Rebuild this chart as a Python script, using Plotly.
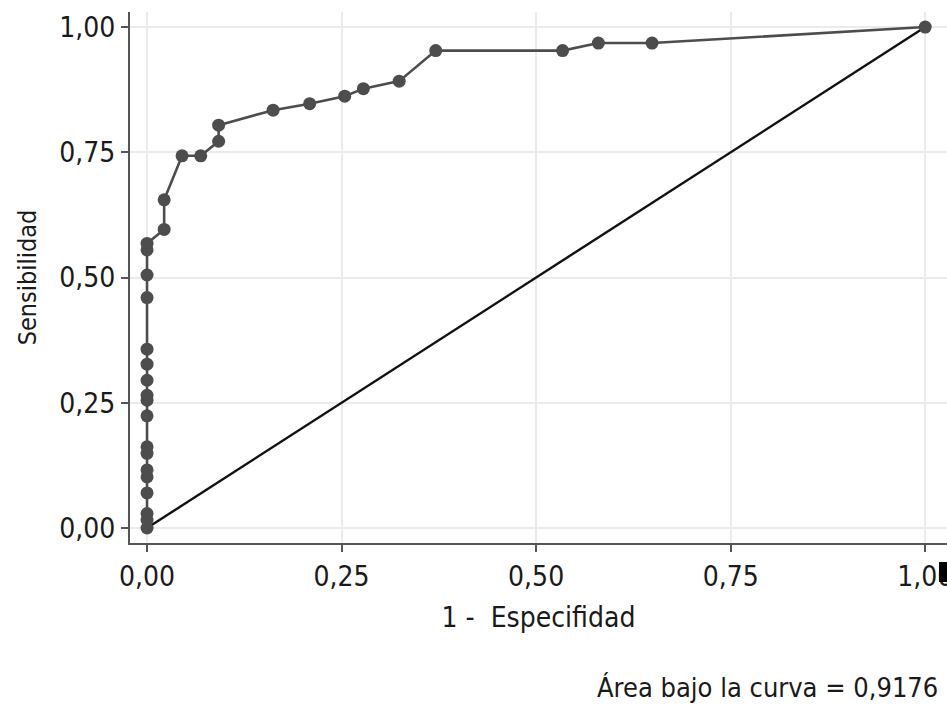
import plotly.graph_objects as go

# ROC curve points: 1 - specificity (x) and sensitivity (y)
fpr = [0.0, 0.0, 0.0, 0.0, 0.0, 0.0, 0.0, 0.0, 0.0, 0.0, 0.0, 0.0, 0.0, 0.0,
       0.0, 0.0, 0.0, 0.0,
       0.022, 0.022, 0.045, 0.069, 0.092, 0.092, 0.162, 0.209, 0.254, 0.278,
       0.324, 0.371, 0.534, 0.580, 0.649, 1.0]
tpr = [0.0, 0.016, 0.029, 0.070, 0.102, 0.116, 0.149, 0.162, 0.224, 0.255,
       0.265, 0.295, 0.327, 0.357, 0.460, 0.505, 0.555, 0.568,
       0.596, 0.655, 0.743, 0.743, 0.772, 0.804, 0.834, 0.847, 0.862, 0.877,
       0.892, 0.953, 0.953, 0.968, 0.968, 1.0]

ref_x = [0.0, 1.0]
ref_y = [0.0, 1.0]

tick_vals = [0.0, 0.25, 0.5, 0.75, 1.0]
tick_text = ["0,00", "0,25", "0,50", "0,75", "1,00"]

x_title = "1 -  Especifidad"
y_title = "Sensibilidad"
auc_text = "Área bajo la curva = 0,9176"

FONT = "Liberation Sans Narrow, DejaVu Sans Condensed, Roboto Condensed, Arial Narrow, sans-serif"

fig = go.Figure()
fig.add_trace(go.Scatter(x=ref_x, y=ref_y, mode="lines",
                         line=dict(color="#111111", width=2.4),
                         hoverinfo="skip", showlegend=False))
fig.add_trace(go.Scatter(x=fpr, y=tpr, mode="lines+markers",
                         line=dict(color="#4d4d4d", width=2.6),
                         marker=dict(color="#4d4d4d", size=13),
                         showlegend=False))

axis_common = dict(
    showgrid=True, gridcolor="#ebebeb", gridwidth=2,
    zeroline=False,
    showline=True, linecolor="#555555", linewidth=2,
    ticks="outside", ticklen=7, tickwidth=2, tickcolor="#555555",
    tickvals=tick_vals, ticktext=tick_text,
    ticklabeloverflow="allow",
    automargin=False,
    tickfont=dict(family=FONT, size=28, color="#1a1a1a"),
)

fig.update_xaxes(range=[-0.0219, 1.028], **axis_common,
                 title=dict(text=x_title, font=dict(family=FONT, size=28, color="#1a1a1a"),
                            standoff=16))
fig.update_yaxes(range=[-0.0299, 1.03], **axis_common,
                 title=dict(text=y_title, font=dict(family=FONT, size=25, color="#1a1a1a"),
                            standoff=16))

fig.add_annotation(text=auc_text, xref="paper", yref="paper", x=0.9914, y=-0.2712,
                   xanchor="right", yanchor="middle", showarrow=False,
                   font=dict(family=FONT, size=27, color="#1a1a1a"))

# small black mark at the lower-right edge, as in the source image
fig.add_shape(type="rect", xref="paper", yref="paper",
              x0=0.9902, x1=1.0, y0=-0.0734, y1=-0.0358,
              fillcolor="black", line=dict(width=0))

fig.update_layout(
    width=947, height=706,
    margin=dict(l=130, r=0, t=12, b=163),
    paper_bgcolor="white", plot_bgcolor="white",
    font=dict(family=FONT),
)

fig.write_html("out.html",
               config={"displayModeBar": False},
               post_script="document.body.style.margin='0';document.body.style.overflow='hidden';")
